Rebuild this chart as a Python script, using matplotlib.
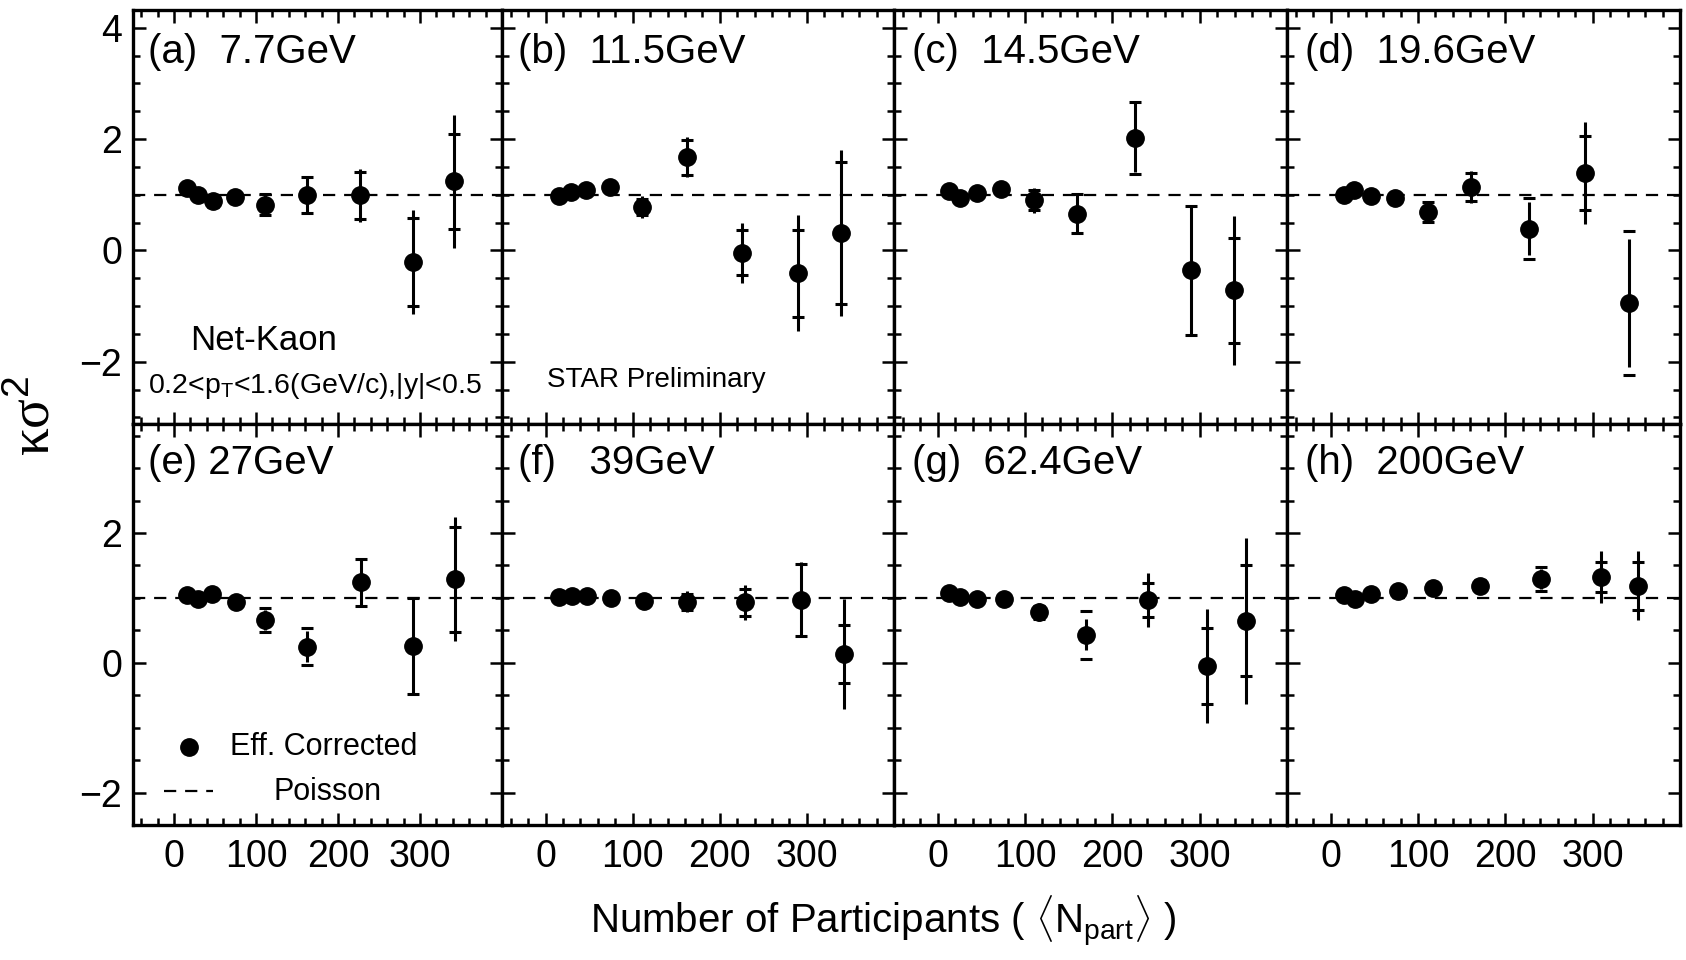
import matplotlib
matplotlib.use("Agg")
import matplotlib.pyplot as plt
from matplotlib.lines import Line2D
from matplotlib.ticker import MultipleLocator, FixedLocator

plt.rcParams['font.family'] = ['Liberation Sans', 'DejaVu Sans']
plt.rcParams['mathtext.fontset'] = 'custom'
plt.rcParams['mathtext.rm'] = 'Liberation Sans'
plt.rcParams['mathtext.it'] = 'Liberation Sans:italic'

# panel labels
labels = ["(a)  7.7GeV", "(b)  11.5GeV", "(c)  14.5GeV", "(d)  19.6GeV",
          "(e) 27GeV", "(f)   39GeV", "(g)  62.4GeV", "(h)  200GeV"]
xticks = [0, 100, 200, 300]

# <Npart> per centrality (70-80% ... 0-5%)
npart_77 = [16, 29, 47, 74, 111, 162, 227, 292, 341]
npart_115 = [15, 29, 47, 74, 111, 162, 226, 290, 339]
npart_145 = [13, 26, 45, 72, 110, 160, 226, 290, 339]
npart_196 = [15, 27, 46, 74, 111, 161, 227, 291, 342]
npart_27 = [16, 29, 46, 75, 111, 162, 228, 292, 343]
npart_39 = [16, 30, 48, 75, 113, 162, 229, 293, 343]
npart_624 = [13, 26, 45, 76, 116, 170, 241, 308, 353]
npart_200 = [15, 28, 46, 77, 117, 171, 241, 310, 352]

# kappa*sigma^2 values
ks2_77 = [1.13, 1.00, 0.88, 0.96, 0.82, 0.99, 0.99, -0.21, 1.24]
ks2_115 = [0.97, 1.05, 1.09, 1.14, 0.78, 1.67, -0.04, -0.41, 0.31]
ks2_145 = [1.07, 0.95, 1.03, 1.11, 0.90, 0.66, 2.02, -0.36, -0.72]
ks2_196 = [1.00, 1.08, 0.98, 0.94, 0.69, 1.14, 0.39, 1.39, -0.95]
ks2_27 = [1.04, 0.98, 1.06, 0.94, 0.66, 0.25, 1.24, 0.26, 1.29]
ks2_39 = [1.02, 1.03, 1.03, 1.00, 0.95, 0.94, 0.93, 0.97, 0.14]
ks2_624 = [1.07, 1.02, 0.98, 0.99, 0.78, 0.43, 0.97, -0.05, 0.65]
ks2_200 = [1.04, 0.98, 1.06, 1.11, 1.16, 1.19, 1.29, 1.32, 1.19]

# statistical errors
stat_77 = [0.03, 0.04, 0.12, 0.06, 0.20, 0.33, 0.48, 0.94, 1.20]
stat_115 = [0.03, 0.03, 0.04, 0.06, 0.20, 0.36, 0.54, 1.04, 1.49]
stat_145 = [0.03, 0.04, 0.05, 0.07, 0.23, 0.36, 0.62, 1.17, 1.34]
stat_196 = [0.03, 0.04, 0.05, 0.06, 0.16, 0.28, 0.48, 0.91, 1.15]
stat_27 = [0.02, 0.03, 0.04, 0.05, 0.16, 0.24, 0.37, 0.75, 0.95]
stat_39 = [0.02, 0.02, 0.03, 0.04, 0.08, 0.16, 0.27, 0.58, 0.85]
stat_624 = [0.02, 0.03, 0.04, 0.05, 0.14, 0.24, 0.42, 0.88, 1.28]
stat_200 = [0.02, 0.02, 0.03, 0.04, 0.06, 0.09, 0.16, 0.40, 0.53]

# systematic errors
sys_77 = [0.02, 0.03, 0.10, 0.05, 0.19, 0.32, 0.42, 0.79, 0.86]
sys_115 = [0.02, 0.03, 0.03, 0.05, 0.15, 0.32, 0.40, 0.78, 1.28]
sys_145 = [0.02, 0.03, 0.04, 0.05, 0.18, 0.35, 0.65, 1.16, 0.94]
sys_196 = [0.02, 0.03, 0.04, 0.05, 0.18, 0.25, 0.55, 0.67, 1.29]
sys_27 = [0.02, 0.03, 0.03, 0.04, 0.18, 0.28, 0.36, 0.74, 0.81]
sys_39 = [0.02, 0.02, 0.03, 0.03, 0.06, 0.12, 0.21, 0.56, 0.45]
sys_624 = [0.02, 0.02, 0.03, 0.04, 0.10, 0.37, 0.26, 0.58, 0.85]
sys_200 = [0.02, 0.02, 0.03, 0.03, 0.05, 0.08, 0.19, 0.23, 0.37]

npart_all = [npart_77, npart_115, npart_145, npart_196, npart_27, npart_39, npart_624, npart_200]
ks2_all = [ks2_77, ks2_115, ks2_145, ks2_196, ks2_27, ks2_39, ks2_624, ks2_200]
stat_all = [stat_77, stat_115, stat_145, stat_196, stat_27, stat_39, stat_624, stat_200]
sys_all = [sys_77, sys_115, sys_145, sys_196, sys_27, sys_39, sys_624, sys_200]

W, H = 1686, 960
fig = plt.figure(figsize=(W / 100, H / 100), dpi=100)

# pixel edges of the panel grid
col_edges = [133, 502, 894, 1287, 1680]
row_edges = [10, 424, 825]
ylims = [(-3.12, 4.32), (-2.5, 3.68)]
title_x = [148, 518, 912, 1305]
title_y = [52, 463]
dash = (0, (5.5, 4))


def fx(px):
    return px / W


def fy(px):
    return 1 - px / H


axes = []
for i in range(8):
    r, c = divmod(i, 4)
    x0, x1 = col_edges[c], col_edges[c + 1]
    y0, y1 = row_edges[r], row_edges[r + 1]
    ax = fig.add_axes([fx(x0), fy(y1), (x1 - x0) / W, (y1 - y0) / H])
    axes.append(ax)

    ax.set_xlim(-50, 400)
    ax.set_ylim(*ylims[r])
    ax.axhline(1.0, color='black', lw=1.6, ls=dash, zorder=1)

    # systematic errors as small caps, statistical errors as plain bars
    ax.errorbar(npart_all[i], ks2_all[i], yerr=sys_all[i], fmt='none',
                elinewidth=0, capsize=4, capthick=2.2, ecolor='black', zorder=2)
    ax.errorbar(npart_all[i], ks2_all[i], yerr=stat_all[i], fmt='o',
                color='black', ms=12.5, elinewidth=2.2, capsize=0, zorder=3)

    ax.xaxis.set_major_locator(FixedLocator(xticks))
    ax.xaxis.set_minor_locator(MultipleLocator(20))
    ax.yaxis.set_major_locator(MultipleLocator(2))
    ax.yaxis.set_minor_locator(MultipleLocator(0.5))
    ax.tick_params(which='both', direction='in', top=True, right=True,
                   width=1.8, labelsize=27)
    ax.tick_params(which='major', length=9)
    ax.tick_params(which='minor', length=5)
    ax.tick_params(axis='x', pad=10)
    ax.tick_params(axis='y', pad=8)
    for s in ax.spines.values():
        s.set_linewidth(2.4)
    if r == 0:
        ax.set_xticklabels([])
    if c != 0:
        ax.set_yticklabels([])

    fig.text(fx(title_x[c]), fy(title_y[r]), labels[i], fontsize=29,
             ha='left', va='center')

# legend in panel (e), drawn by hand to keep the ROOT look
fig.add_artist(Line2D([fx(189)], [fy(747)], marker='o', color='black', ms=12.5,
                      ls='none', transform=fig.transFigure))
fig.add_artist(Line2D([fx(164), fx(213)], [fy(791), fy(791)], color='black',
                      lw=1.6, ls=dash, transform=fig.transFigure))
fig.text(fx(230), fy(747), 'Eff. Corrected', fontsize=22, ha='left', va='center')
fig.text(fx(273), fy(792), 'Poisson', fontsize=22, ha='left', va='center')

fig.text(fx(190), fy(341), 'Net-Kaon', fontsize=25, ha='left', va='center')
fig.text(fx(148), fy(386), r'0.2<p$_{\mathrm{T}}$<1.6(GeV/c),|y|<0.5',
         fontsize=20.5, ha='left', va='center')
fig.text(fx(547), fy(380), 'STAR Preliminary', fontsize=20, ha='left', va='center')

fig.text(fx(883), fy(921), r'Number of Participants ( $\langle\mathrm{N}_{\mathrm{part}}\rangle$ )',
         fontsize=29, ha='center', va='center')
fig.text(fx(36), fy(416), r'κσ$^{2}$', fontsize=40, rotation=90,
         ha='center', va='center', family=['Liberation Serif', 'DejaVu Serif'])

fig.savefig('out.png', dpi=100)
